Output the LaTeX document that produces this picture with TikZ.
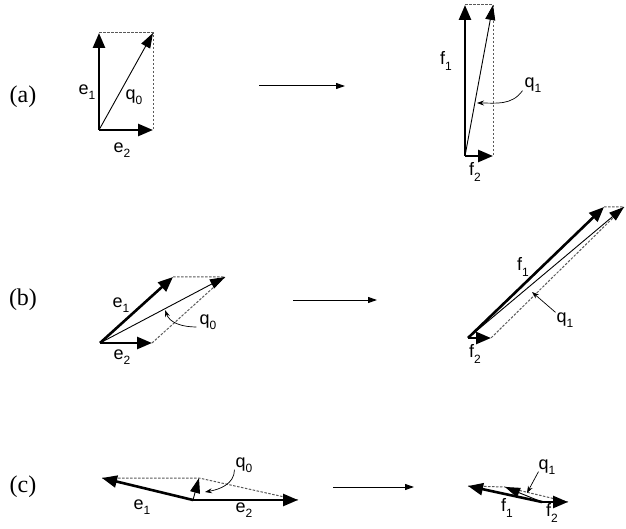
\documentclass[tikz,border=0pt]{standalone}
\usepackage{fontspec}
\setmainfont{Liberation Serif}
\setsansfont{Liberation Sans}
\usetikzlibrary{arrows.meta}
\newcommand{\sbs}[1]{\raisebox{-0.55ex}{\fontsize{12}{12}\selectfont #1}}

\begin{document}
\begin{tikzpicture}[x=1pt,y=1pt,
  vec/.style={line width=2.6pt,-{Triangle[length=15pt,width=12pt]}},
  res/.style={line width=0.9pt,-{Triangle[length=15pt,width=10pt]}},
  aux/.style={black!65,line width=1pt,dash pattern=on 2.5pt off 1.5pt},
  map/.style={line width=1pt,-{Triangle[length=9pt,width=6pt]}},
  pnt/.style={line width=0.7pt,-{Stealth[length=7pt,width=5pt]}},
  lab/.style={font=\sffamily\fontsize{18}{18}\selectfont,inner sep=0pt},
  tag/.style={font=\fontsize{24}{24}\selectfont,inner sep=0pt}]
\useasboundingbox (0,0) rectangle (626,528);

%% row (a)
\node[tag] (taga) at (23,431) {(a)};
\coordinate (oa) at (99,398);   \coordinate (ea1) at (99,495);
\coordinate (ea2) at (153,398); \coordinate (qa0) at (153,495);
\draw[aux] (ea1) -- (qa0) -- (ea2);
\draw[vec] (oa) -- (ea1);
\draw[vec] (oa) -- (ea2);
\draw[res] (oa) -- (qa0);
\node[lab] (lea1) at (87,436) {e\sbs{1}};
\node[lab] (lqa0) at (134,431) {q\sbs{0}};
\node[lab] (lea2) at (122,378) {e\sbs{2}};

\coordinate (ma1) at (259,442); \coordinate (ma2) at (345,442);
\draw[map] (ma1) -- (ma2);

\coordinate (pa) at (465,372);   \coordinate (fa1) at (465,523);
\coordinate (fa2) at (493,372);  \coordinate (qa1) at (493,523);
\draw[aux] (fa1) -- (qa1) -- (fa2);
\draw[vec] (pa) -- (fa1);
\draw[vec] (pa) -- (fa2);
\draw[res] (pa) -- (qa1);
\node[lab] (lfa1) at (446,467) {f\sbs{1}};
\node[lab] (lqa1) at (533,443) {q\sbs{1}};
\node[lab] (lfa2) at (475,356) {f\sbs{2}};
\coordinate (ha) at (477,425);
\draw[pnt] (lqa1.south west) ++(-2,2) to[out=235,in=0] (ha);

%% row (b)
\node[tag] (tagb) at (23,228) {(b)};
\coordinate (ob) at (100,185);   \coordinate (eb1) at (173,251);
\coordinate (eb2) at (152,185);  \coordinate (qb0) at (225,251);
\draw[aux] (eb1) -- (qb0) -- (eb2);
\draw[vec] (ob) -- (eb1);
\draw[vec] (ob) -- (eb2);
\draw[res] (ob) -- (qb0);
\node[lab] (leb1) at (121,223) {e\sbs{1}};
\node[lab] (lqb0) at (208,206) {q\sbs{0}};
\node[lab] (leb2) at (122,171) {e\sbs{2}};
\coordinate (hb0) at (165,218);
\draw[pnt] (lqb0.west) ++(-3,-5) to[out=180,in=-70] (hb0);

\coordinate (mb1) at (293,228); \coordinate (mb2) at (377,228);
\draw[map] (mb1) -- (mb2);

\coordinate (pb) at (468,190);   \coordinate (fb1) at (604,321);
\coordinate (fb2) at (491,190);  \coordinate (qb1) at (624,321);
\draw[aux] (fb1) -- (qb1) -- (fb2);
\draw[vec] (pb) -- (fb1);
\draw[vec] (pb) -- (fb2);
\draw[res] (pb) -- (qb1);
\node[lab] (lfb1) at (523,261) {f\sbs{1}};
\node[lab] (lqb1) at (565,208) {q\sbs{1}};
\node[lab] (lfb2) at (475,174) {f\sbs{2}};
\coordinate (hb1) at (532,236);
\draw[pnt] (lqb1.north west) ++(-1,0) -- (hb1);

%% row (c)
\node[tag] (tagc) at (23,41) {(c)};
\coordinate (oc) at (193,28);    \coordinate (ec1) at (102,50);
\coordinate (ec2) at (298,28);   \coordinate (qc0) at (199,50);
\draw[aux] (ec1) -- (qc0) -- (ec2);
\draw[vec] (oc) -- (ec1);
\draw[vec] (oc) -- (ec2);
\draw[res] (oc) -- (qc0);
\node[lab] (lec1) at (142,21) {e\sbs{1}};
\node[lab] (lqc0) at (244,63) {q\sbs{0}};
\node[lab] (lec2) at (244,18) {e\sbs{2}};
\coordinate (hc0) at (205,36);
\draw[pnt] (lqc0.south west) ++(-1,3) to[out=-90,in=10] (hc0);

\coordinate (mc1) at (333,41); \coordinate (mc2) at (414,41);
\draw[map] (mc1) -- (mc2);

\coordinate (pc) at (542,26);    \coordinate (fc1) at (468,42);
\coordinate (fc2) at (568,26);   \coordinate (qc1) at (505,41);
\draw[aux] (fc1) -- (qc1) -- (fc2);
\draw[vec] (pc) -- (fc1);
\draw[vec] (pc) -- (fc2);
\draw[res] (pc) -- (qc1);
\node[lab] (lfc1) at (507,20) {f\sbs{1}};
\node[lab] (lqc1) at (547,61) {q\sbs{1}};
\node[lab] (lfc2) at (552,15) {f\sbs{2}};
\coordinate (hc1) at (527,35);
\draw[pnt] (lqc1.south west) ++(0,3) -- (hc1);
\end{tikzpicture}
\end{document}
